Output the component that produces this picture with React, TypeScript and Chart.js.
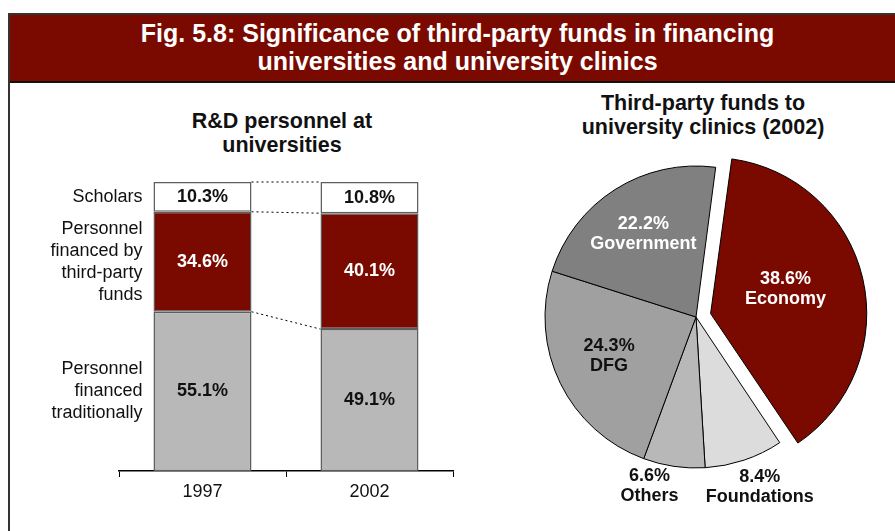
import { useEffect, useRef } from "react";
import { Chart, registerables } from "chart.js";

Chart.register(...registerables);

// ---- Bar chart data (R&D personnel at universities) ----
const YEARS = ["1997", "2002"];
const TRADITIONAL = [55.1, 49.1];
const THIRD_PARTY = [34.6, 40.1];
const SCHOLARS = [10.3, 10.8];
const SEGMENT_LINES = [
  ["Personnel", "financed", "traditionally"],
  ["Personnel", "financed by", "third-party", "funds"],
  ["Scholars"],
];

// ---- Pie chart data (third-party funds to university clinics 2002) ----
const SOURCES = ["Economy", "Foundations", "Others", "DFG", "Government"];
const SHARES = [38.6, 8.4, 6.6, 24.3, 22.2];

// ---- styles ----
const RED = "#7A0A00";
const FONT = '"Liberation Sans", Arial, Helvetica, sans-serif';
const BAR_COLORS = ["#B8B8B8", RED, "#FFFFFF"];
const BAR_TEXT = ["#111", "#fff", "#111"];
const PIE_COLORS = [RED, "#DCDCDC", "#B8B8B8", "#A0A0A0", "#808080"];
const PIE_TEXT = ["#fff", "#111", "#111", "#111", "#fff"];
const PIE_OFFSET = [60, 0, 0, 0, 0];
const PIE_LABEL_RADIUS = [0.62, 1.2, 1.16, 0.63, 0.65];
const PIE_LABEL_TURN = [-4, -2, 7, 2, 0];

const barPlugin = {
  id: "barDecor",
  afterDatasetsDraw(chart: any) {
    const ctx = chart.ctx;
    const metas = [0, 1, 2].map((i) => chart.getDatasetMeta(i));
    ctx.save();
    // dotted connectors
    ctx.setLineDash([2, 3]);
    ctx.strokeStyle = "#000";
    ctx.lineWidth = 1;
    metas.forEach((m: any) => {
      const a = m.data[0];
      const b = m.data[1];
      ctx.beginPath();
      ctx.moveTo(a.x + a.width / 2, a.y);
      ctx.lineTo(b.x - b.width / 2, b.y);
      ctx.stroke();
    });
    ctx.setLineDash([]);
    // value labels
    ctx.font = `bold 18px ${FONT}`;
    ctx.textAlign = "center";
    ctx.textBaseline = "middle";
    metas.forEach((m: any, di: number) => {
      m.data.forEach((el: any, i: number) => {
        const v = chart.data.datasets[di].data[i] as number;
        ctx.fillStyle = BAR_TEXT[di];
        ctx.fillText(v.toFixed(1) + "%", el.x, (el.y + el.base) / 2);
      });
    });
    // segment names at the left
    ctx.font = `18px ${FONT}`;
    ctx.textAlign = "right";
    ctx.fillStyle = "#111";
    metas.forEach((m: any, di: number) => {
      const el = m.data[0];
      const lines = SEGMENT_LINES[di];
      const cy = (el.y + el.base) / 2;
      lines.forEach((t, k) =>
        ctx.fillText(t, el.x - el.width / 2 - 11, cy + (k - (lines.length - 1) / 2) * 22)
      );
    });
    ctx.restore();
  },
};

const piePlugin = {
  id: "pieDecor",
  afterDatasetsDraw(chart: any) {
    const ctx = chart.ctx;
    const meta = chart.getDatasetMeta(0);
    ctx.save();
    ctx.font = `bold 18px ${FONT}`;
    ctx.textAlign = "center";
    ctx.textBaseline = "middle";
    meta.data.forEach((arc: any, i: number) => {
      const mid = (arc.startAngle + arc.endAngle) / 2 + (PIE_LABEL_TURN[i] * Math.PI) / 180;
      const r = arc.outerRadius * PIE_LABEL_RADIUS[i];
      const x = arc.x + Math.cos(mid) * r;
      const y = arc.y + Math.sin(mid) * r;
      ctx.fillStyle = PIE_TEXT[i];
      ctx.fillText(SHARES[i].toFixed(1) + "%", x, y - 10);
      ctx.fillText(SOURCES[i], x, y + 10);
    });
    ctx.restore();
  },
};

export default function App() {
  const barRef = useRef<HTMLCanvasElement>(null);
  const pieRef = useRef<HTMLCanvasElement>(null);

  useEffect(() => {
    const bar = new Chart(barRef.current!, {
      type: "bar",
      data: {
        labels: YEARS,
        datasets: [
          { label: "traditional", data: TRADITIONAL },
          { label: "third-party", data: THIRD_PARTY },
          { label: "scholars", data: SCHOLARS },
        ].map((d, i) => ({
          ...d,
          backgroundColor: BAR_COLORS[i],
          borderColor: "#5E5E5E",
          borderWidth: 1.5,
          borderSkipped: false,
          categoryPercentage: 1,
          barPercentage: 0.587,
        })),
      },
      options: {
        responsive: false,
        animation: false,
        devicePixelRatio: 1,
        layout: { padding: { left: 119, right: 17, top: 92, bottom: 0 } },
        plugins: { legend: { display: false }, tooltip: { enabled: false } },
        scales: {
          x: {
            stacked: true,
            grid: {
              display: true,
              drawOnChartArea: false,
              drawTicks: true,
              tickLength: 6,
              color: "#000",
              offset: true,
            },
            border: { display: true, color: "#000", width: 1.5 },
            ticks: { color: "#111", font: { family: FONT, size: 18 }, padding: 4 },
            afterFit: (s: any) => {
              s.height = 60;
            },
          },
          y: { stacked: true, display: false, min: 0, max: 100 },
        },
      },
      plugins: [barPlugin],
    } as any);

    const pie = new Chart(pieRef.current!, {
      type: "pie",
      data: {
        labels: SOURCES,
        datasets: [
          {
            data: SHARES,
            backgroundColor: PIE_COLORS,
            borderColor: "#000",
            borderWidth: 1,
            offset: PIE_OFFSET,
          },
        ],
      },
      options: {
        responsive: false,
        animation: false,
        devicePixelRatio: 1,
        rotation: 7.5,
        radius: 151,
        layout: { padding: { left: 40, right: 13, top: 20, bottom: 7 } },
        plugins: { legend: { display: false }, tooltip: { enabled: false } },
      },
      plugins: [piePlugin],
    } as any);

    return () => {
      bar.destroy();
      pie.destroy();
    };
  }, []);

  const titleStyle: any = {
    position: "absolute",
    fontFamily: FONT,
    fontWeight: "bold",
    fontSize: 21.5,
    lineHeight: "24px",
    color: "#111",
    textAlign: "center",
    whiteSpace: "nowrap",
  };

  return (
    <div
      style={{
        position: "fixed",
        left: 0,
        top: 0,
        width: 895,
        height: 531,
        background: "#fff",
        overflow: "hidden",
      }}
    >
      <div
        style={{
          position: "absolute",
          left: 8,
          top: 13,
          width: 887,
          height: 518,
          borderLeft: "2px solid #333",
          borderTop: "2px solid #333",
          boxSizing: "border-box",
        }}
      />
      <div
        style={{
          position: "absolute",
          left: 10,
          top: 15,
          width: 885,
          height: 68,
          background: RED,
          borderBottom: "2px solid #111",
          boxSizing: "border-box",
          color: "#fff",
          fontFamily: FONT,
          fontWeight: "bold",
          fontSize: 25,
          lineHeight: "28px",
          textAlign: "center",
          paddingTop: 4,
          paddingLeft: 10,
        }}
      >
        Fig. 5.8: Significance of third-party funds in financing
        <br />
        universities and university clinics
      </div>
      <div style={{ ...titleStyle, left: 132, width: 300, top: 109 }}>
        R&amp;D personnel at
        <br />
        universities
      </div>
      <div style={{ ...titleStyle, left: 553, width: 300, top: 91 }}>
        Third-party funds to
        <br />
        university clinics (2002)
      </div>
      <canvas
        ref={barRef}
        width={470}
        height={441}
        style={{ position: "absolute", left: 0, top: 90, width: 470, height: 441 }}
      />
      <canvas
        ref={pieRef}
        width={425}
        height={441}
        style={{ position: "absolute", left: 470, top: 90, width: 425, height: 441 }}
      />
    </div>
  );
}
